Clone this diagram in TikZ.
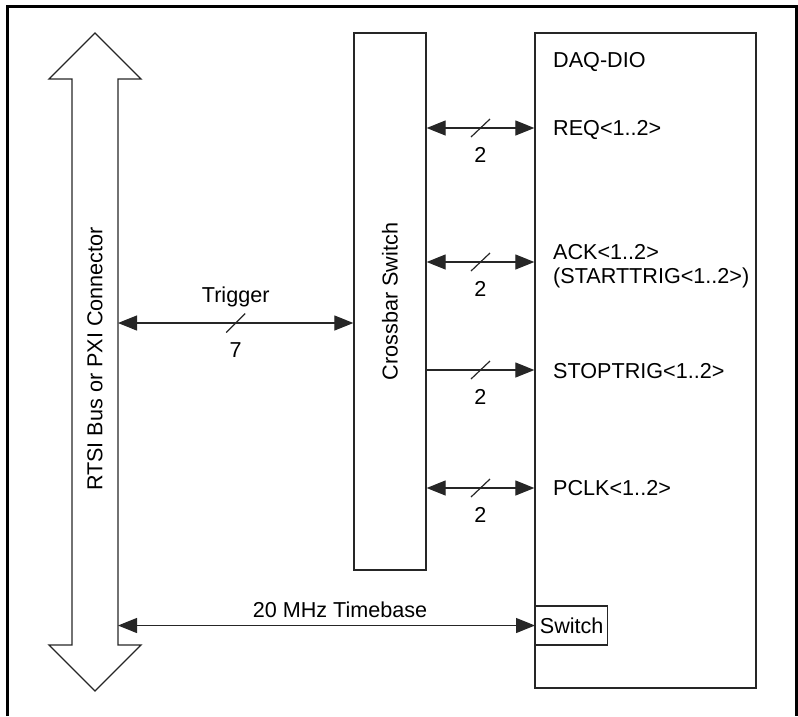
\documentclass[tikz,border=0pt]{standalone}
\usepackage{fontspec}
\setmainfont{Liberation Sans}
\usetikzlibrary{arrows.meta,calc,positioning}

\tikzset{
  box/.style={draw=black!85, line width=1.3pt, inner sep=0pt},
  txt/.style={font=\fontsize{21.6}{24}\selectfont, inner sep=0pt},
  sig/.style={line width=1.2pt, draw=black!85},
  onearrow/.style={-{Triangle[length=19pt,width=15pt]}},
  twoarrow/.style={{Triangle[length=19pt,width=15pt]}-{Triangle[length=19pt,width=15pt]}},
}

\begin{document}
\begin{tikzpicture}[x=1pt, y=-1pt]
    \useasboundingbox (0,0) rectangle (798,716);

    % Outer frame (open at the bottom)
    \draw[line width=3pt] (7,716) -- (7,6) -- (796,6) -- (796,716);

    % RTSI bus double arrow
    \draw[line width=1.3pt, black!85] (95,33) -- (141,79) -- (118,79) -- (118,645)
        -- (141,645) -- (95,691) -- (49,645) -- (72,645) -- (72,79) -- (49,79) -- cycle;
    \node[txt, rotate=90] (buslbl) at (95,359) {RTSI Bus or PXI Connector};
    \coordinate (busR) at (118,362);

    % Crossbar switch and DAQ-DIO blocks
    \node[box, minimum width=72pt, minimum height=537pt] (xbar) at (390,301.5) {};
    \node[txt, rotate=90] (xbarlbl) at (xbar.center) {Crossbar Switch};
    \node[box, minimum width=221pt, minimum height=655pt] (daq) at (645.5,360.5) {};
    \node[txt, anchor=base west] (daqlbl) at (553,67) {DAQ-DIO};
    \node[box, txt, anchor=west, minimum width=72pt, minimum height=39pt] (sw) at (535,625.5) {Switch};

    % Trigger lines
    \coordinate (trigL) at (busR |- 0,323);
    \draw[sig, twoarrow] (trigL) -- (xbar.west |- trigL) coordinate[pos=0.5] (trigM);
    \draw[sig] ($(trigM)+(-9.5,9.5)$) -- ($(trigM)+(9.5,-9.5)$);
    \node[txt, anchor=base] (triglbl) at ($(trigM)+(0,-21)$) {Trigger};
    \node[txt, anchor=base] (trignum) at ($(trigM)+(0,34)$) {7};

    % Handshake lines to DAQ-DIO
    \foreach \y/\n in {128/req, 262/ack, 370/stop, 488/pclk} {
        \coordinate (\n L) at (xbar.east |- 0,\y);
        \coordinate (\n R) at (daq.west |- 0,\y);
        \coordinate (\n M) at ($(\n L)!0.5!(\n R)$);
        \draw[sig] ($(\n M)+(-9.5,9)$) -- ($(\n M)+(9.5,-9)$);
        \node[txt, anchor=base] (\n num) at ($(\n M)+(0,34)$) {2};
    }
    \draw[sig, twoarrow] (reqL) -- (reqR);
    \draw[sig, twoarrow] (ackL) -- (ackR);
    \draw[sig, onearrow] (stopL) -- (stopR);
    \draw[sig, twoarrow] (pclkL) -- (pclkR);

    \node[txt, anchor=base west] (reqlbl) at (553,135.5) {REQ<1..2>};
    \node[txt, anchor=base west] (acklbl) at (553,259) {ACK<1..2>};
    \node[txt, anchor=base west] (startlbl) at (553,283) {(STARTTRIG<1..2>)};
    \node[txt, anchor=base west] (stoplbl) at (553,378) {STOPTRIG<1..2>};
    \node[txt, anchor=base west] (pclklbl) at (553,495.5) {PCLK<1..2>};

    % Timebase
    \coordinate (tbL) at (busR |- sw.west);
    \draw[sig, twoarrow] (tbL) -- (sw.west);
    \node[txt, anchor=base] (tblbl) at (340,617) {20 MHz Timebase};

\end{tikzpicture}
\end{document}
